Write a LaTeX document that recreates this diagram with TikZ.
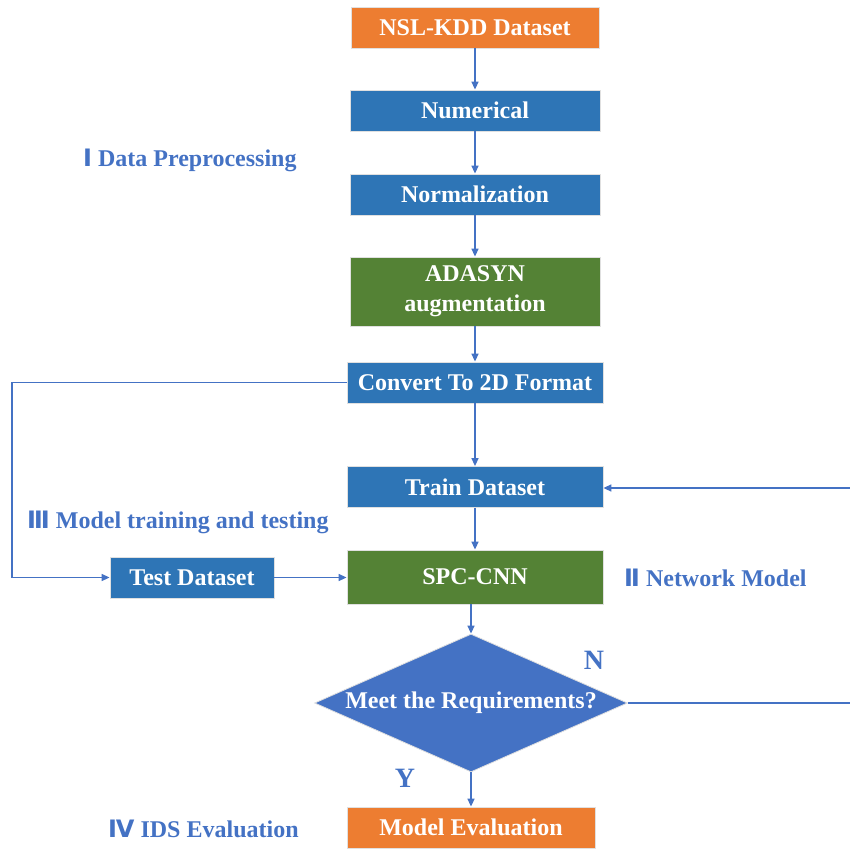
\documentclass[tikz,border=0pt]{standalone}
\usepackage{fontspec}
\setmainfont{Liberation Serif}
\newfontfamily\numfont{DejaVu Sans}
\usetikzlibrary{shapes.geometric,arrows.meta}
\definecolor{cOrange}{HTML}{ED7D31}
\definecolor{cBlue}{HTML}{2E75B6}
\definecolor{cGreen}{HTML}{548235}
\definecolor{cLine}{HTML}{4472C4}
\begin{document}
\begin{tikzpicture}[x=1pt,y=-1pt,
  box/.style={draw=black!12,line width=0.8pt,text=white,font=\bfseries\fontsize{24}{30}\selectfont,
    minimum height=41pt,inner sep=0pt,align=center},
  orangebox/.style={box,fill=cOrange},
  bluebox/.style={box,fill=cBlue},
  greenbox/.style={box,fill=cGreen},
  link/.style={draw=cLine,line width=1.5pt,-{Triangle[length=8pt,width=7pt]}},
  stage/.style={text=cLine,font=\bfseries\fontsize{24}{26}\selectfont,anchor=west,inner sep=0pt},
  flag/.style={text=cLine,font=\bfseries\fontsize{28}{30}\selectfont,inner sep=0pt}]
\useasboundingbox (0,0) rectangle (850,848);

% process boxes
\node[orangebox,minimum width=248pt] (nsl) at (475,27.5) {NSL-KDD Dataset};
\node[bluebox,minimum width=250pt] (num) at (475,110.5) {Numerical};
\node[bluebox,minimum width=250pt] (norm) at (475,194.5) {Normalization};
\node[greenbox,minimum width=250pt,minimum height=69pt] (ada) at (475,291.5) {ADASYN\\augmentation};
\node[bluebox,minimum width=256pt] (conv) at (475,382.5) {Convert To 2D Format};
\node[bluebox,minimum width=256pt] (train) at (475,487) {Train Dataset};
\node[greenbox,minimum width=256pt,minimum height=54pt] (cnn) at (475,577) {SPC-CNN};
\node[bluebox,minimum width=164pt] (test) at (192,577.5) {Test Dataset};
\node[diamond,fill=cLine,draw=black!12,line width=0.8pt,aspect=2.27,minimum width=313pt,minimum height=138pt,
  inner sep=0pt] (req) at (471,703) {};
\node[text=white,font=\bfseries\fontsize{24}{26}\selectfont,inner sep=0pt] (reqtext) at (req.center) {Meet the Requirements?};
\node[orangebox,minimum width=248pt] (eval) at (471,827.5) {Model Evaluation};

% stage labels
\node[stage] (s1) at (83,160) {{\numfont Ⅰ} Data Preprocessing};
\node[stage] (s3) at (27,522) {{\numfont Ⅲ} Model training and testing};
\node[stage] (s2) at (624,578) {{\numfont Ⅱ} Network Model};
\node[stage] (s4) at (108,829) {{\numfont Ⅳ} IDS Evaluation};
\node[flag] (fn) at (594,660) {N};
\node[flag] (fy) at (405,778) {Y};

% connectors
\coordinate (tl) at (12,382.5);
\coordinate (bl) at (12,577.5);
\coordinate (rb) at (851,703);
\coordinate (rt) at (851,488);
\draw[link] (nsl) -- (num);
\draw[link] (num) -- (norm);
\draw[link] (norm) -- (ada);
\draw[link] (ada) -- (conv);
\draw[link] (conv) -- (train);
\draw[link] (train) -- (cnn);
\draw[link] (conv.west) -- (tl) -- (bl) -- (test.west);
\draw[link] (test.east) -- (cnn.west |- test.east);
\draw[link] (cnn.south -| req.north) -- (req.north);
\draw[link] (req.south) -- (eval.north);
\draw[link] (req.east) -- (rb) -- (rt) -- (train.east |- rt);
\end{tikzpicture}
\end{document}
